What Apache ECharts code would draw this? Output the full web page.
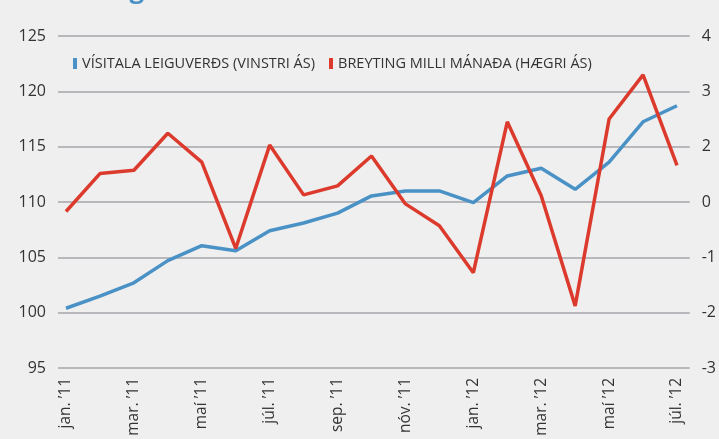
<!DOCTYPE html>
<html><head><meta charset="utf-8">
<script src="https://cdn.jsdelivr.net/npm/echarts@6/dist/echarts.min.js"></script>
<style>html,body{margin:0;padding:0;background:#efefef;}#c{width:719px;height:439px;}</style>
</head><body><div id="c"></div>
<script>
const categories = ["jan. ’11","feb. ’11","mar. ’11","apr. ’11","maí ’11","jún. ’11","júl. ’11","ágú. ’11","sep. ’11","okt. ’11","nóv. ’11","des. ’11","jan. ’12","feb. ’12","mar. ’12","apr. ’12","maí ’12","jún. ’12","júl. ’12"];
const indexValues = [100.4,101.5,102.7,104.7,106.05,105.6,107.4,108.1,109.0,110.55,111.0,111.0,109.95,112.35,113.05,111.15,113.6,117.25,118.7];
const changeValues = [0.3,1.1,1.17,1.95,1.34,-0.48,1.7,0.65,0.84,1.47,0.46,0.0,-0.99,2.19,0.63,-1.69,2.25,3.18,1.27];
const rightTickLabels = ["-3","-2","-1","0","2","3","4"];
const seriesNames = ["VÍSITALA LEIGUVERÐS (VINSTRI ÁS)","BREYTING MILLI MÁNAÐA (HÆGRI ÁS)"];
const titleText = "Þróun leiguverðs";

const FONT = "Open Sans";
const rMin = -3, rMax = 4;
const rStep = (rMax - rMin) / (rightTickLabels.length - 1);
const rightPositions = rightTickLabels.map((_, i) => rMin + i * rStep);

const chart = echarts.init(document.getElementById('c'));
chart.setOption({
  backgroundColor: '#efefef',
  animation: false,
  title: { text: titleText, left: 8, top: -27, textStyle: { fontFamily: FONT, fontSize: 26, fontWeight: 'bold', color: '#4a92c6' } },
  legend: {
    left: 68, top: 51, itemWidth: 4, itemHeight: 11, itemGap: 14,
    icon: 'rect',
    textStyle: { fontFamily: FONT, fontSize: 14.5, color: '#333' },
    data: seriesNames
  },
  grid: [
    { left: 58, right: 26, top: 36, bottom: 71 },
    { left: 66, right: 42, top: 36, bottom: 71 }
  ],
  xAxis: [
    { gridIndex: 0, type: 'category', data: categories, show: false },
    { gridIndex: 1, type: 'category', data: categories, boundaryGap: false,
      axisLine: { show: false }, axisTick: { show: false },
      axisLabel: { interval: 1, rotate: 90, margin: 10, fontFamily: FONT, fontSize: 15.5, color: '#333' } }
  ],
  yAxis: [
    { gridIndex: 0, type: 'value', min: 95, max: 125, interval: 5, position: 'left',
      axisLine: { show: false }, axisTick: { show: false },
      axisLabel: { margin: 12, fontFamily: FONT, fontSize: 16, color: '#333' },
      splitLine: { lineStyle: { color: '#b8b8bc', width: 2 } } },
    { gridIndex: 0, type: 'value', min: rMin, max: rMax, position: 'right',
      axisLine: { show: false }, axisTick: { show: false }, splitLine: { show: false },
      axisLabel: { margin: 12, fontFamily: FONT, fontSize: 16, color: '#333',
        customValues: rightPositions,
        formatter: (v) => { const i = rightPositions.findIndex(p => Math.abs(p - v) < 1e-6); return i >= 0 ? rightTickLabels[i] : ''; } } },
    { gridIndex: 1, type: 'value', min: 95, max: 125, show: false, splitLine: { show: false } },
    { gridIndex: 1, type: 'value', min: rMin, max: rMax, show: false, splitLine: { show: false } }
  ],
  series: [
    { name: seriesNames[0], type: 'line', xAxisIndex: 1, yAxisIndex: 2, data: indexValues,
      symbol: 'none', lineStyle: { color: '#4a92c6', width: 3.5 }, itemStyle: { color: '#4a92c6' } },
    { name: seriesNames[1], type: 'line', xAxisIndex: 1, yAxisIndex: 3, data: changeValues,
      symbol: 'none', lineStyle: { color: '#db3a2c', width: 3.5 }, itemStyle: { color: '#db3a2c' } }
  ]
});
</script></body></html>
